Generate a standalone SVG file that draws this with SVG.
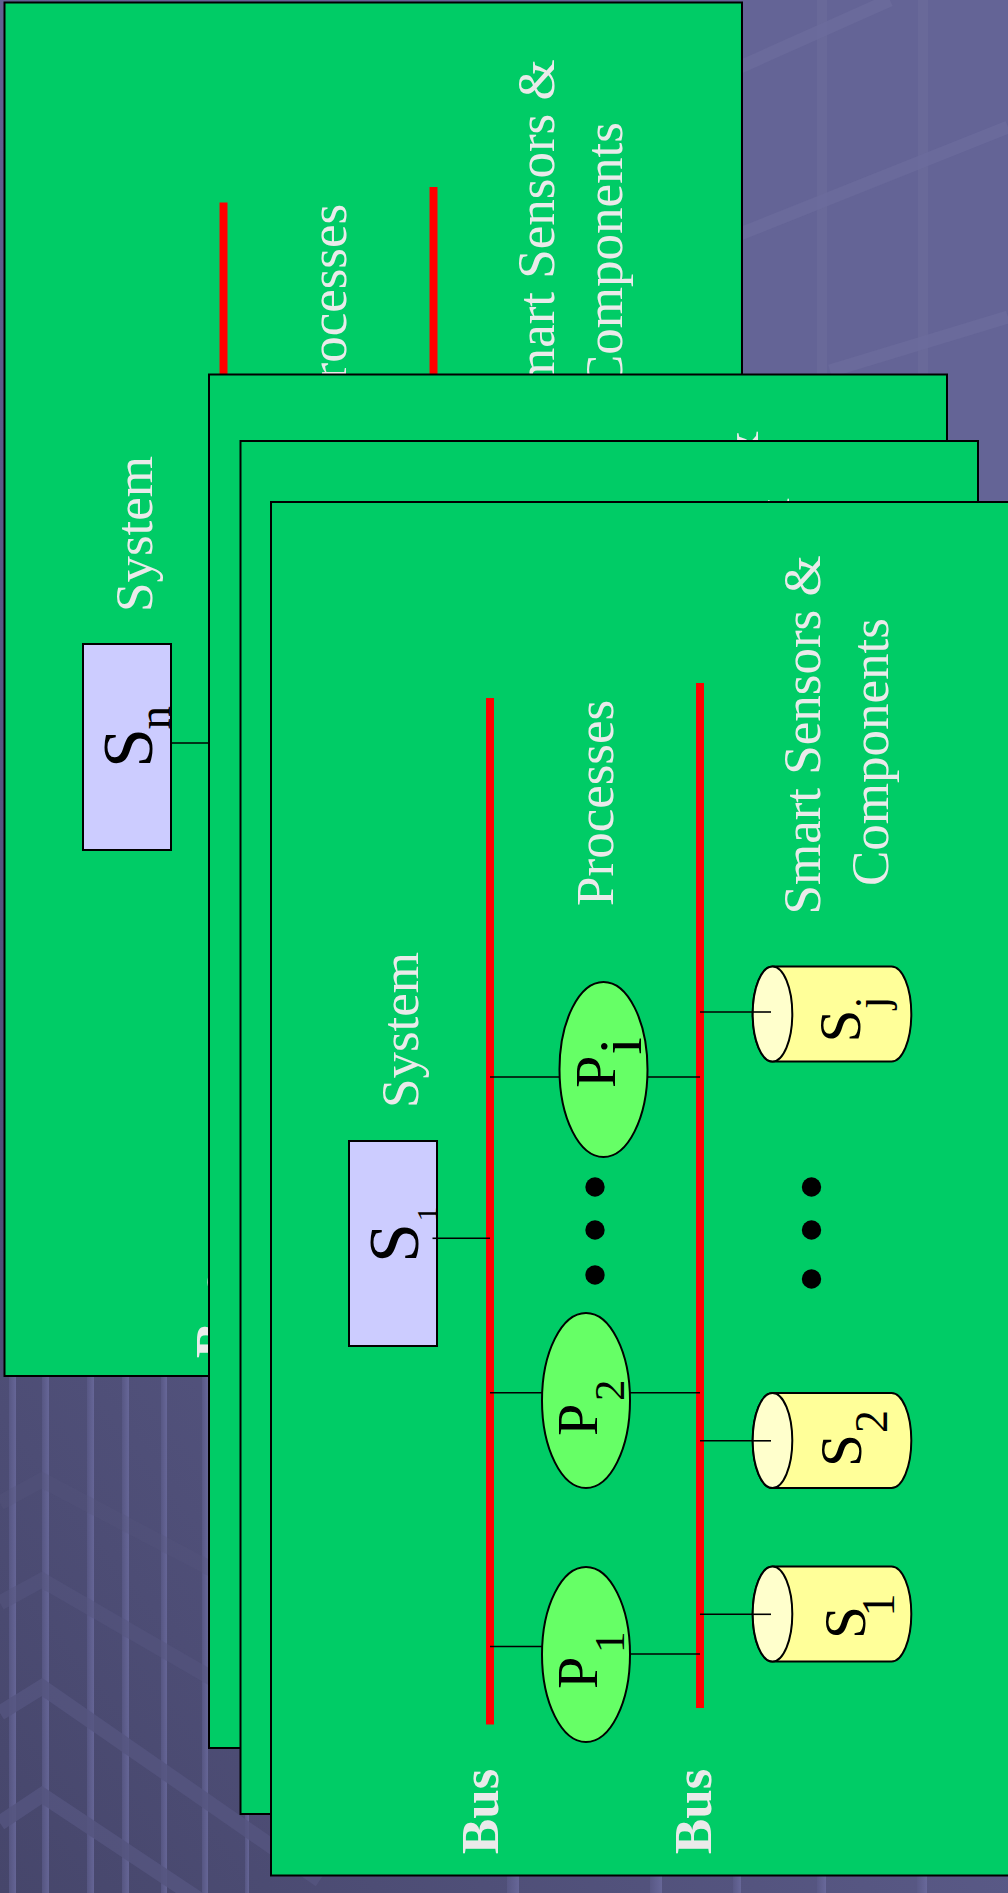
<svg xmlns="http://www.w3.org/2000/svg" width="1008" height="1893" viewBox="0 0 1008 1893">
  <defs>
    <linearGradient id="bgGrad" gradientUnits="userSpaceOnUse" x1="0" y1="1893" x2="1008" y2="1100">
      <stop offset="0" stop-color="#46466b"/>
      <stop offset="1" stop-color="#646496"/>
    </linearGradient>
    <linearGradient id="stripeGrad" x1="0" y1="0" x2="1" y2="0">
      <stop offset="0" stop-color="#5a5a88"/>
      <stop offset="1" stop-color="#6e6ea2"/>
    </linearGradient>
    <style>
      .slide { fill: #00cc66; stroke: #000; stroke-width: 2; }
      .bus { stroke: #ff0000; stroke-width: 8; fill: none; }
      .wire { stroke: #000; stroke-width: 1.6; fill: none; }
      .label { font-family: "Liberation Serif", "Times New Roman", serif; font-size: 53px; fill: #eaeaea; }
      .buslabel { font-family: "Liberation Serif", "Times New Roman", serif; font-size: 53px; font-weight: bold; fill: #eaeaea; }
      .glyph { font-family: "Liberation Serif", "Times New Roman", serif; fill: #000; }
      .sysbox { fill: #ccccff; stroke: #000; stroke-width: 2; }
      .proc { fill: #66ff66; stroke: #000; stroke-width: 2; }
      .canbody { fill: #ffff99; stroke: #000; stroke-width: 2; }
      .cantop { fill: #ffffcc; stroke: #000; stroke-width: 2; }
      .dot { fill: #000; }
      .band { fill: none; stroke: #55557f; stroke-width: 15; }
      .vband { fill: url(#stripeGrad); opacity: 0.75; }
      .hiband { fill: none; stroke: #6c6c9c; stroke-width: 13; opacity: 0.7; }
    </style>
  </defs>

  <!-- backdrop -->
  <g id="background">
    <rect x="0" y="0" width="1008" height="1893" fill="url(#bgGrad)"/>
    <!-- light grid, upper right -->
    <rect x="817" y="0" width="10" height="380" fill="#6a6a9a" opacity="0.8"/>
    <rect x="918" y="0" width="10" height="380" fill="#6a6a9a" opacity="0.8"/>
    <line class="hiband" x1="740" y1="67" x2="890" y2="0"/>
    <line class="hiband" x1="740" y1="234" x2="1008" y2="127"/>
    <line class="hiband" x1="830" y1="371" x2="1008" y2="317"/>
    <!-- vertical ribs, lower left -->
    <rect class="vband" x="9" y="1376" width="7" height="517"/>
    <rect class="vband" x="42" y="1376" width="7" height="517"/>
    <rect class="vband" x="87" y="1376" width="7" height="517"/>
    <rect class="vband" x="122" y="1376" width="7" height="517"/>
    <rect class="vband" x="161" y="1376" width="6" height="517"/>
    <rect class="vband" x="202" y="1376" width="6" height="517"/>
    <rect class="vband" x="245" y="1376" width="4" height="517"/>
    <rect class="vband" x="507" y="1870" width="12" height="23"/>
    <rect class="vband" x="650" y="1870" width="12" height="23"/>
    <rect class="vband" x="733" y="1870" width="8" height="23"/>
    <rect class="vband" x="817" y="1870" width="9" height="23"/>
    <rect class="vband" x="917" y="1870" width="10" height="23"/>
    <!-- chevrons, lower left -->
    <polyline class="band" opacity="0.3" points="0,1503 42,1480 270,1600"/>
    <polyline class="band" opacity="0.5" points="0,1603 42,1580 270,1712"/>
    <polyline class="band" opacity="0.8" points="0,1713 42,1687 320,1880"/>
    <polyline class="band" opacity="0.85" points="0,1823 42,1795 200,1900"/>
  </g>

  <!-- rear slide (S_n) -->
  <g id="slide-n">
    <rect class="slide" x="4.5" y="2.5" width="737.5" height="1373.5"/>
    <line class="bus" x1="223.5" y1="202.5" x2="223.5" y2="1228"/>
    <line class="bus" x1="433.5" y1="187" x2="433.5" y2="1212"/>
    <line class="wire" x1="166" y1="743" x2="223.5" y2="743"/>
    <rect class="sysbox" x="83" y="644" width="88" height="206"/>
    <text class="glyph" transform="rotate(-90)"><tspan x="-768" y="152" font-size="72">S</tspan><tspan x="-729.5" y="170" font-size="47">n</tspan></text>
    <text class="label" transform="rotate(-90)" x="-612" y="151.8">System</text>
    <text class="label" transform="rotate(-90)" x="-410" y="346.2">Processes</text>
    <text class="label" transform="rotate(-90)" x="-418.5" y="553.5">Smart Sensors &amp;</text>
    <text class="label" transform="rotate(-90)" x="-390" y="621.5">Components</text>
    <text class="buslabel" transform="rotate(-90)" x="-1358" y="231.5">Bus</text>
  </g>

  <!-- second slide -->
  <g id="slide-2">
    <rect class="slide" x="209" y="374.5" width="738" height="1373.5"/>
    <text class="label" transform="rotate(-90)" x="-790" y="758">Smart Sensors &amp;</text>
  </g>

  <!-- third slide -->
  <g id="slide-3">
    <rect class="slide" x="240.5" y="441" width="737.5" height="1373"/>
    <text class="label" transform="rotate(-90)" x="-857" y="789">Smart Sensors &amp;</text>
  </g>

  <!-- front slide -->
  <g id="slide-1">
    <rect class="slide" x="271" y="502" width="740" height="1373.5"/>
    <g id="labels">
      <text class="label" transform="rotate(-90)" x="-1108" y="418.3">System</text>
      <text class="label" transform="rotate(-90)" x="-906" y="612.7">Processes</text>
      <text class="label" transform="rotate(-90)" x="-914.5" y="820">Smart Sensors &amp;</text>
      <text class="label" transform="rotate(-90)" x="-886" y="888">Components</text>
      <text class="buslabel" transform="rotate(-90)" x="-1854" y="498">Bus</text>
      <text class="buslabel" transform="rotate(-90)" x="-1854" y="710.7">Bus</text>
    </g>

    <g id="process-bus">
      <line class="bus" x1="490" y1="698" x2="490" y2="1724.5"/>
    </g>
    <g id="sensor-bus">
      <line class="bus" x1="700" y1="683" x2="700" y2="1708"/>
    </g>

    <g id="connectors">
      <line class="wire" x1="432.5" y1="1238.3" x2="490" y2="1238.3"/>
      <line class="wire" x1="490" y1="1077" x2="560" y2="1077"/>
      <line class="wire" x1="647" y1="1077" x2="700" y2="1077"/>
      <line class="wire" x1="490" y1="1392.7" x2="543" y2="1392.7"/>
      <line class="wire" x1="629" y1="1392.7" x2="700" y2="1392.7"/>
      <line class="wire" x1="490" y1="1646.5" x2="543" y2="1646.5"/>
      <line class="wire" x1="629" y1="1654" x2="700" y2="1654"/>
      <line class="wire" x1="700" y1="1012" x2="771" y2="1012"/>
      <line class="wire" x1="700" y1="1440.8" x2="771" y2="1440.8"/>
      <line class="wire" x1="700" y1="1614.3" x2="771" y2="1614.3"/>
    </g>

    <g id="system-s1">
      <rect class="sysbox" x="349" y="1141" width="88" height="205"/>
      <line class="wire" x1="432.5" y1="1238.3" x2="437" y2="1238.3"/>
      <text class="glyph" transform="rotate(-90)"><tspan x="-1263" y="418" font-size="72">S</tspan><tspan x="-1221.5" y="436.5" font-size="30">1</tspan></text>
    </g>

    <g id="process-p1">
      <ellipse class="proc" cx="586" cy="1654.5" rx="44" ry="87.5"/>
      <text class="glyph" transform="rotate(-90)"><tspan x="-1689" y="597" font-size="58">P</tspan><tspan x="-1653" y="624" font-size="43">1</tspan></text>
    </g>
    <g id="process-p2">
      <ellipse class="proc" cx="586" cy="1400.5" rx="44" ry="87.5"/>
      <text class="glyph" transform="rotate(-90)"><tspan x="-1436" y="597" font-size="58">P</tspan><tspan x="-1401" y="624" font-size="43">2</tspan></text>
    </g>
    <g id="process-pi">
      <ellipse class="proc" cx="603.5" cy="1069.5" rx="44" ry="87.5"/>
      <text class="glyph" transform="rotate(-90)"><tspan x="-1088" y="615" font-size="58">P</tspan><tspan x="-1054.5" y="641" font-size="62">i</tspan></text>
    </g>

    <g id="process-ellipsis">
      <circle class="dot" cx="595" cy="1187" r="9.7"/>
      <circle class="dot" cx="595" cy="1230" r="9.7"/>
      <circle class="dot" cx="595" cy="1275" r="9.7"/>
    </g>
    <g id="sensor-ellipsis">
      <circle class="dot" cx="811.5" cy="1187" r="9.7"/>
      <circle class="dot" cx="811.5" cy="1230" r="9.7"/>
      <circle class="dot" cx="811.5" cy="1279" r="9.7"/>
    </g>

    <g id="sensor-sj">
      <path class="canbody" d="M772.5,966.5 L891.5,966.5 A19.8,47.5 0 0 1 891.5,1061.5 L772.5,1061.5 A19.8,47.5 0 0 1 772.5,966.5 Z"/>
      <ellipse class="cantop" cx="772.5" cy="1014" rx="19.8" ry="47.5"/>
      <line class="wire" x1="752.7" y1="1012" x2="771" y2="1012"/>
      <text class="glyph" transform="rotate(-90)"><tspan x="-1042.5" y="860" font-size="59">S</tspan><tspan x="-1009" y="887" font-size="46">j</tspan></text>
    </g>
    <g id="sensor-s2">
      <path class="canbody" d="M772.5,1393 L891.5,1393 A19.8,47.5 0 0 1 891.5,1488 L772.5,1488 A19.8,47.5 0 0 1 772.5,1393 Z"/>
      <ellipse class="cantop" cx="772.5" cy="1440.5" rx="19.8" ry="47.5"/>
      <line class="wire" x1="752.7" y1="1440.8" x2="771" y2="1440.8"/>
      <text class="glyph" transform="rotate(-90)"><tspan x="-1467" y="861" font-size="59">S</tspan><tspan x="-1433" y="887" font-size="46">2</tspan></text>
    </g>
    <g id="sensor-s1">
      <path class="canbody" d="M772.5,1566.5 L891.5,1566.5 A19.8,47.5 0 0 1 891.5,1661.5 L772.5,1661.5 A19.8,47.5 0 0 1 772.5,1566.5 Z"/>
      <ellipse class="cantop" cx="772.5" cy="1614" rx="19.8" ry="47.5"/>
      <line class="wire" x1="752.7" y1="1614.3" x2="771" y2="1614.3"/>
      <text class="glyph" transform="rotate(-90)"><tspan x="-1639" y="865" font-size="59">S</tspan><tspan x="-1616.5" y="894" font-size="46">1</tspan></text>
    </g>
  </g>
</svg>
